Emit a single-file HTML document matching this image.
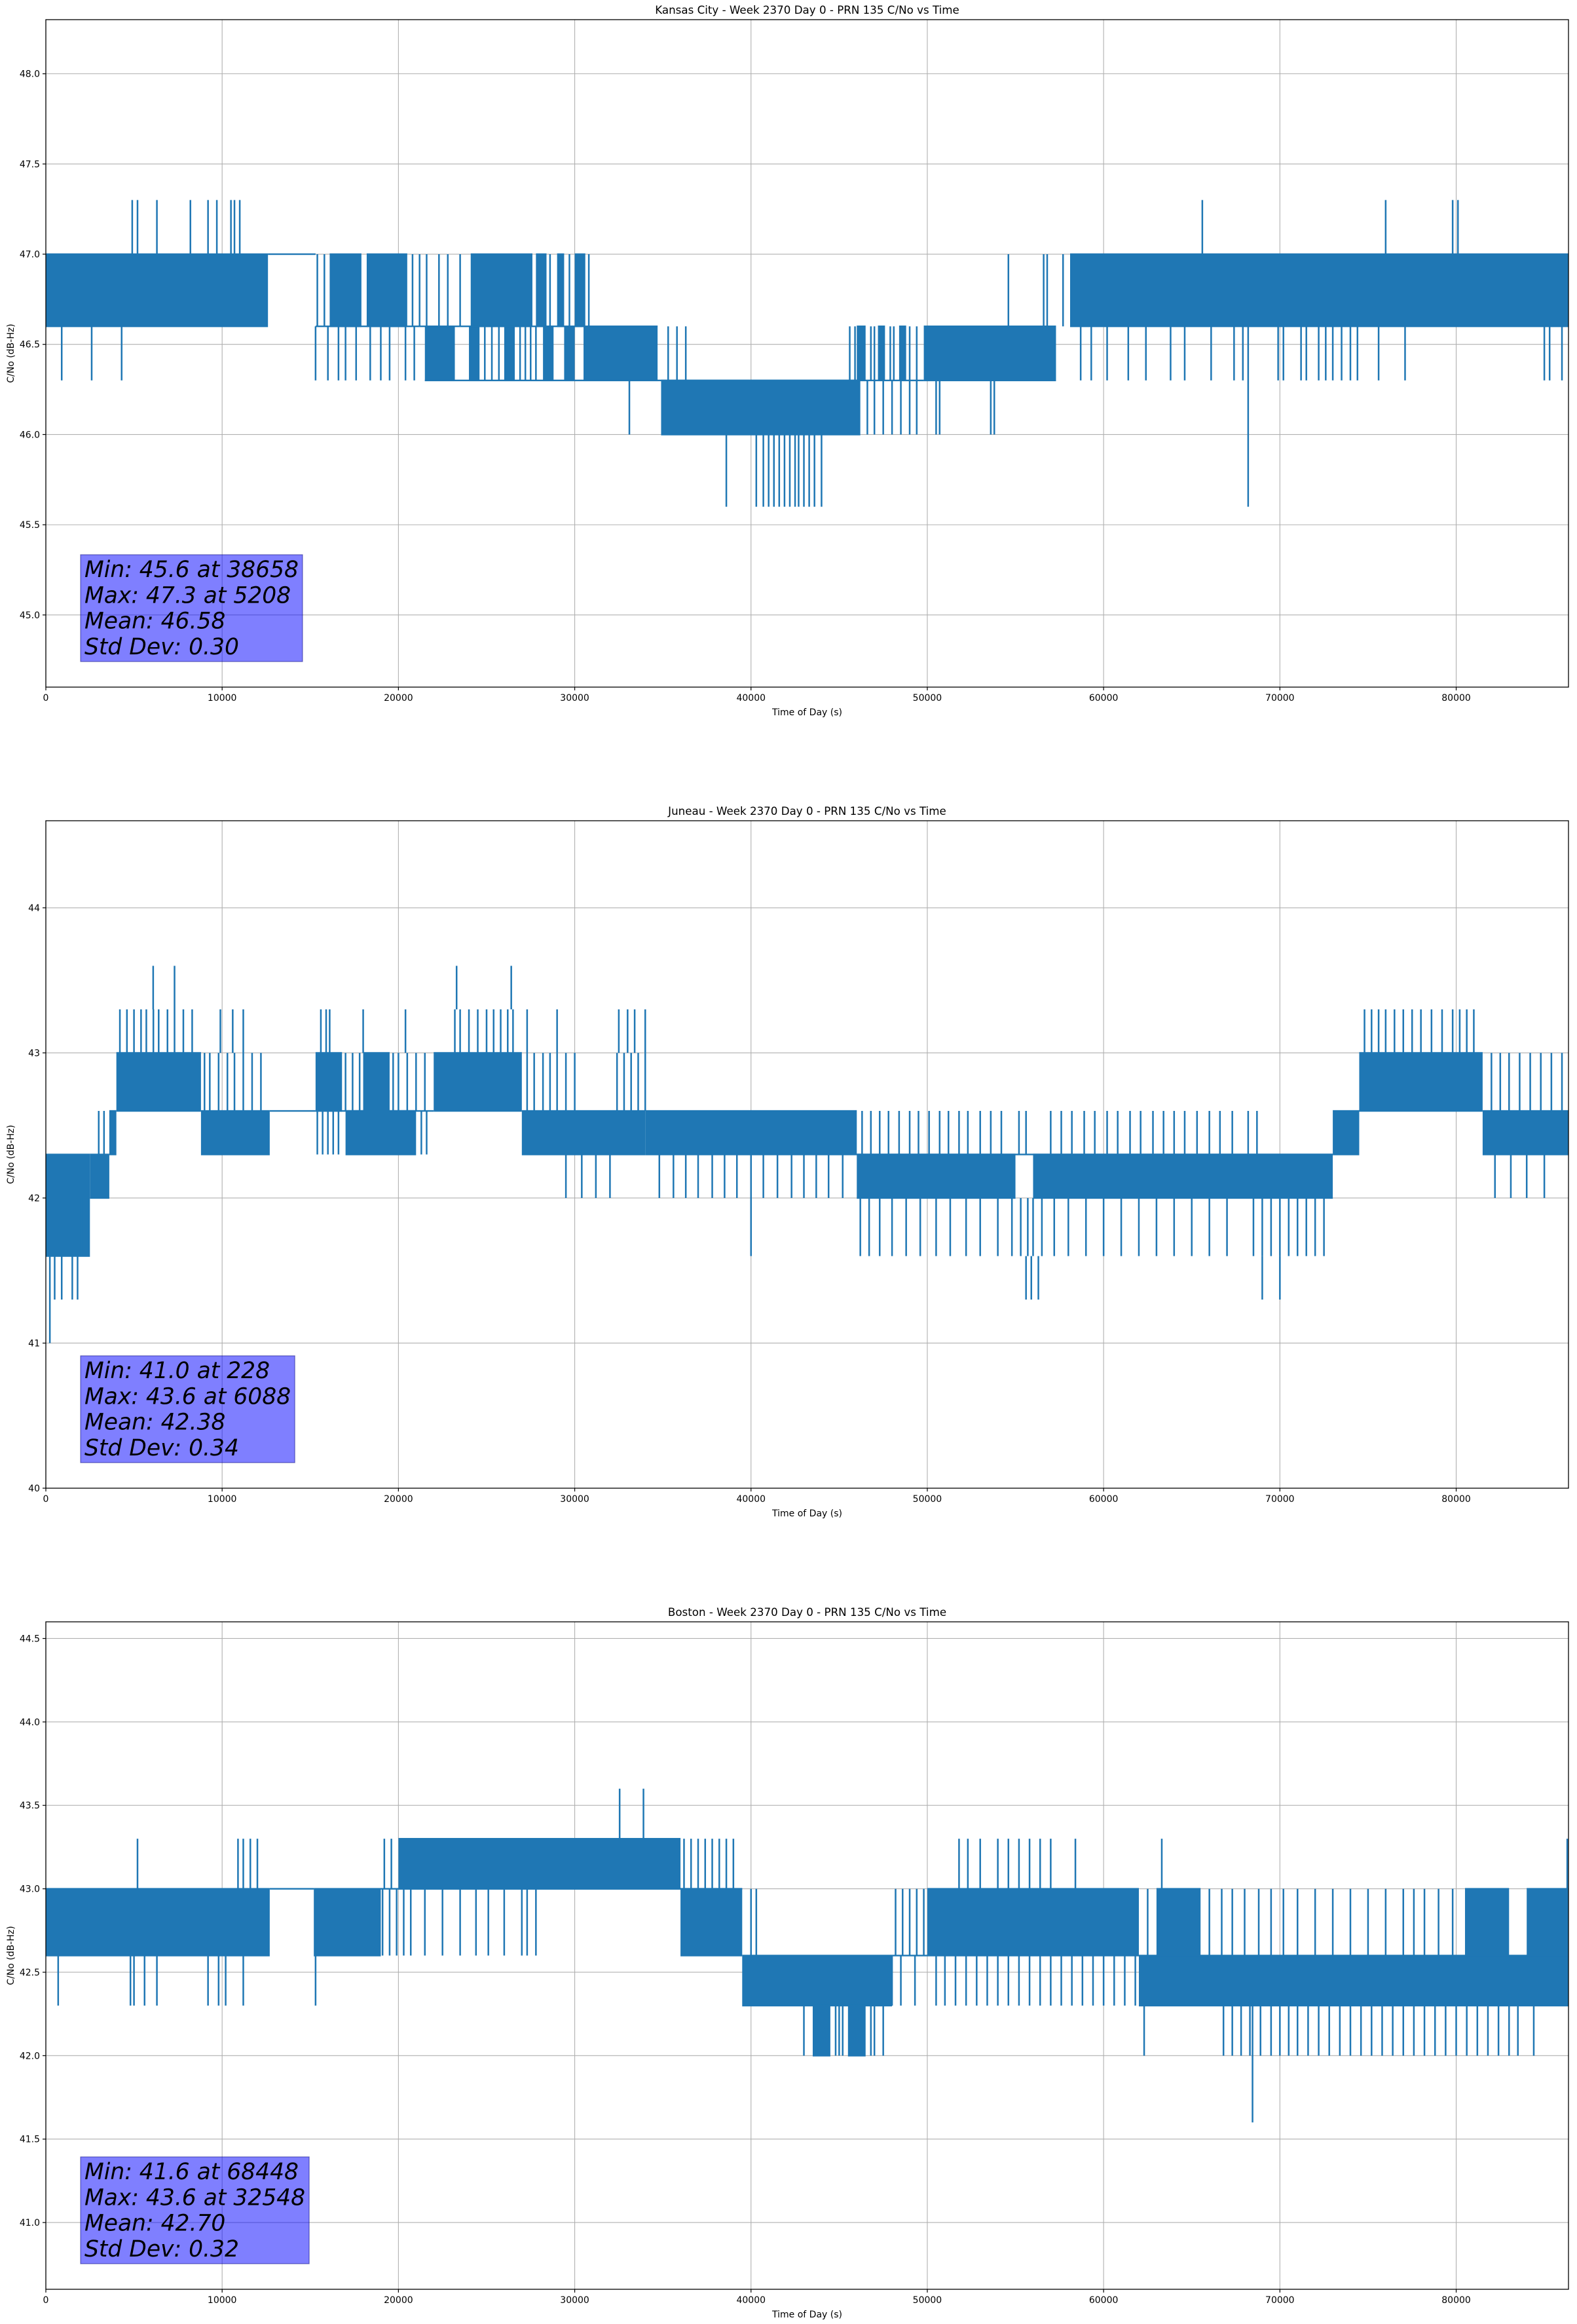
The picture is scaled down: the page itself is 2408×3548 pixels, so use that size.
<!DOCTYPE html>
<html><head><meta charset="utf-8">
<style>
html,body{margin:0;padding:0;background:#fff;}
svg{display:block;}
text{font-family:"DejaVu Sans","Liberation Sans",sans-serif;fill:#000;}
</style></head>
<body>
<svg id="fig" width="2408" height="3548" viewBox="0 0 2408 3548" xmlns="http://www.w3.org/2000/svg">
<rect x="0" y="0" width="2408" height="3548" fill="#fff"/>
</svg>
<script>
// ---------- data ----------
const xTicks = [0,10000,20000,30000,40000,50000,60000,70000,80000];
const xTickLabels = ["0","10000","20000","30000","40000","50000","60000","70000","80000"];

// Kansas City
const kcYTicks = [45.0,45.5,46.0,46.5,47.0,47.5,48.0];
const kcYTickLabels = ["45.0","45.5","46.0","46.5","47.0","47.5","48.0"];
const kcBands = [[0,12600,46.6,47.0],[12600,15300,47.0,47.0],[16100,17900,46.6,47.0],[18200,20500,46.6,47.0],[24100,27600,46.6,47.0],[27800,28400,46.6,47.0],[29000,29400,46.6,47.0],[30000,30600,46.6,47.0],[21500,23200,46.3,46.6],[24000,24600,46.3,46.6],[26000,26600,46.3,46.6],[28200,28800,46.3,46.6],[29400,30000,46.3,46.6],[30500,34700,46.3,46.6],[34900,46200,46.0,46.3],[46000,46500,46.3,46.6],[47200,47600,46.3,46.6],[48400,48800,46.3,46.6],[49800,57300,46.3,46.6],[58100,86370,46.6,47.0],[15300,34700,46.6,46.6],[21500,49800,46.3,46.3]];
const kcStrokeLo = [46.6,46.3,46.3,46.6,46.0,45.6,47.0,45.6];
const kcStrokeHi = [47.0,46.6,46.6,47.0,46.3,46.0,47.3,46.6];
const kcStrokeTimes = [
 [15400,15800,20800,21200,21600,22300,22800,23500,28600,29700,30800],
 [900,2600,4300,15300,16000,16600,17000,17600,18400,19000,19500,20400,20900,24900,25300,25700,26900,27200,27500,27800,35300,35800,36300,58700,59300,60200,61400,62400,63800,64600,66100,67400,67900,69900,70200,71200,71500,72200,72600,73000,73500,74000,74400,75600,77100,85000,85300,86000],
 [45600,45900,46800,47000,47900,48100,49000,49400],
 [54600,56600,56800,57700],
 [33100,46600,47000,47500,48000,48500,49000,49400,50500,50700,53600,53800],
 [38600,40300,40700,41000,41300,41600,41900,42200,42500,42700,43000,43300,43600,44000],
 [4900,5200,6300,8200,9200,9700,10500,10700,11000,65600,76000,79800,80100],
 [68200]
];
const kcStats = ["Min: 45.6 at 38658","Max: 47.3 at 5208","Mean: 46.58","Std Dev: 0.30"];

// Juneau
const jnYTicks = [40,41,42,43,44];
const jnYTickLabels = ["40","41","42","43","44"];
const jnBands = [[0,2500,41.6,42.3],[2500,3600,42.0,42.3],[3600,4000,42.3,42.6],[4000,8800,42.6,43.0],[8800,12700,42.3,42.6],[12700,15300,42.6,42.6],[15300,16800,42.6,43.0],[18000,19500,42.6,43.0],[17000,21000,42.3,42.6],[22000,27000,42.6,43.0],[27000,34000,42.3,42.6],[34000,46000,42.3,42.6],[46000,55000,42.0,42.3],[56000,73000,42.0,42.3],[73000,74500,42.3,42.6],[74500,81500,42.6,43.0],[81500,86370,42.3,42.6],[15300,22000,42.6,42.6],[46000,73000,42.3,42.3]];
const jnStrokeLo = [42.3,42.6,43.0,43.3,42.0,41.6,41.3,41.0];
const jnStrokeHi = [42.6,43.0,43.3,43.6,42.3,42.0,41.6,41.6];
const jnStrokeTimes = [
 [3000,3300,15400,15700,16000,16300,16600,21300,21600,46300,46800,47300,47800,48400,49000,49500,50100,50700,51200,51800,52300,53000,53600,54200,55200,55600,57000,57600,58200,58900,59500,60200,60800,61500,62100,62800,63400,64000,64600,65300,66000,66600,67300,68200,68700],
 [9000,9300,9800,10300,10700,11200,11700,12200,17000,17400,17800,19700,20000,20500,21000,21500,27300,27700,28200,28600,29000,29500,30000,32400,32800,33200,33600,34000,82000,82500,83000,83600,84200,84800,85400,86000],
 [4200,4600,5000,5400,5700,6100,6400,6900,7300,7800,8300,9900,10600,11200,15600,15900,16100,18000,20400,23200,23500,24000,24500,25000,25400,25800,26200,26500,27300,29000,32500,33000,33400,34000,74800,75200,75600,76000,76500,77000,77500,78000,78600,79200,79800,80200,80600,81000],
 [6088,7300,23300,26400],
 [29500,30400,31200,32000,34800,35600,36300,37000,37800,38500,39200,40000,40700,41500,42300,43000,43700,44400,45200,82200,83100,84000,85000],
 [2000,40000,46200,46700,47300,48000,48800,49600,50500,51300,52200,53000,54000,54800,55300,55700,56000,56500,57200,58000,59000,60000,61000,62000,63000,64000,65000,66000,67000,68500,69000,69500,70000,70500,71000,71500,72000,72500],
 [500,900,1500,1800,55600,55900,56300,69000,70000],
 [228]
];
const jnStats = ["Min: 41.0 at 228","Max: 43.6 at 6088","Mean: 42.38","Std Dev: 0.34"];

// Boston
const bsYTicks = [41.0,41.5,42.0,42.5,43.0,43.5,44.0,44.5];
const bsYTickLabels = ["41.0","41.5","42.0","42.5","43.0","43.5","44.0","44.5"];
const bsBands = [[0,12700,42.6,43.0],[12700,15200,43.0,43.0],[15200,19000,42.6,43.0],[20000,36000,43.0,43.3],[36000,39500,42.6,43.0],[39500,48000,42.3,42.6],[43500,44500,42.0,42.3],[45500,46500,42.0,42.3],[50000,62000,42.6,43.0],[62000,86370,42.3,42.6],[63000,65500,42.6,43.0],[80500,83000,42.6,43.0],[84000,86370,42.6,43.0],[19000,39500,43.0,43.0],[48000,50000,42.6,42.6]];
const bsStrokeLo = [43.0,43.3,42.6,42.3,42.0,41.6];
const bsStrokeHi = [43.3,43.6,43.0,42.6,42.3,42.3];
const bsStrokeTimes = [
 [5200,10900,11200,11600,12000,19200,19600,36200,36600,37000,37400,37800,38200,38600,39000,51800,52300,53000,54000,54600,55200,55800,56400,57000,58400,63300,86300],
 [32548,33900],
 [19100,19500,19900,20300,20700,21500,22500,23500,24400,25100,26000,27000,27300,27800,40000,40300,48200,48600,49000,49400,49800,62500,66000,66700,67300,68000,68800,69500,70200,71000,72000,73000,74000,75000,76000,77000,77600,78200,79000,79800],
 [700,4800,5000,5600,6300,9200,9800,10200,11200,15300,48000,48500,49300,50500,51000,51600,52200,52800,53400,54000,54600,55200,55800,56400,57000,57600,58200,58800,59400,60000,60600,61200,61800],
 [43000,44800,45000,45200,46800,47000,47500,62300,66800,67300,67800,68300,68900,69500,70000,70500,71000,71600,72200,72800,73400,74000,74600,75200,75800,76400,77000,77600,78200,78800,79400,80000,80600,81200,81800,82400,83000,83500,84400],
 [68448]
];
const bsStats = ["Min: 41.6 at 68448","Max: 43.6 at 32548","Mean: 42.70","Std Dev: 0.32"];

// ---------- drawing ----------
const NS = "http://www.w3.org/2000/svg";
const svg = document.getElementById("fig");
const AX_L = 70, AX_R = 2395, X_MAX = 86370;
const BLUE = "#1f77b4";
function mk(tag, attrs, parent){
  const e = document.createElementNS(NS, tag);
  for (const k in attrs) e.setAttribute(k, attrs[k]);
  (parent||svg).appendChild(e);
  return e;
}
function drawPlot(p){
  const g = mk("g", {});
  
  
  const top = p.top, bot = p.top + 1019;
  const sx = t => AX_L + (t / X_MAX) * (AX_R - AX_L);
  const sy = v => bot - (v - p.yMin) / (p.yMax - p.yMin) * (bot - top);
  xTicks.forEach((t,i)=>{
    const l = mk("line",{x1:sx(t),x2:sx(t),y1:top,y2:bot,stroke:"#b0b0b0","stroke-width":1.1},g);
    
    
  });
  p.yTicks.forEach(v=>{
    const l = mk("line",{x1:AX_L,x2:AX_R,y1:sy(v),y2:sy(v),stroke:"#b0b0b0","stroke-width":1.1},g);
    
    
  });
  const dg = mk("g",{},g);
  
  
  p.bands.forEach(b=>{
    const y1 = sy(b[3]), y2 = sy(b[2]);
    const r = mk("rect",{x:sx(b[0]),y:y1-1.2,width:Math.max(1,sx(b[1])-sx(b[0])),height:(y2-y1)+2.4,fill:BLUE},dg);
    
    
  });
  p.strokeTimes.forEach((arr,gi)=>{
    arr.forEach(t=>{
      const l = mk("line",{x1:sx(t),x2:sx(t),y1:sy(p.strokeHi[gi]),y2:sy(p.strokeLo[gi]),stroke:BLUE,"stroke-width":2.5},dg);
      
      
    });
  });
  const sp = mk("rect",{x:AX_L,y:top,width:AX_R-AX_L,height:bot-top,fill:"none",stroke:"#000","stroke-width":1.3},g);
  
  
  xTicks.forEach((t,i)=>{
    mk("line",{x1:sx(t),x2:sx(t),y1:bot,y2:bot+5,stroke:"#000","stroke-width":1.2},g);
    const tx = mk("text",{x:sx(t),y:bot+21,"font-size":14,"text-anchor":"middle"},g);
    tx.textContent = xTickLabels[i];
    
    
  });
  p.yTicks.forEach((v,i)=>{
    mk("line",{x1:AX_L-5,x2:AX_L,y1:sy(v),y2:sy(v),stroke:"#000","stroke-width":1.2},g);
    const tx = mk("text",{x:AX_L-9,y:sy(v)+5,"font-size":14,"text-anchor":"end"},g);
    tx.textContent = p.yTickLabels[i];
    
    
  });
  const tt = mk("text",{x:(AX_L+AX_R)/2,y:top-9,"font-size":16.7,"text-anchor":"middle"},g);
  tt.textContent = p.title;
  
  
  const xl = mk("text",{x:(AX_L+AX_R)/2,y:bot+43,"font-size":14,"text-anchor":"middle"},g);
  xl.textContent = "Time of Day (s)";
  
  
  const cy = (top+bot)/2;
  const yl = mk("text",{x:0,y:0,"font-size":14,"text-anchor":"middle",transform:"translate(21,"+cy+") rotate(-90)"},g);
  yl.textContent = "C/No (dB-Hz)";
  
  
  const bg = mk("g",{},g);
  
  
  const boxBot = bot - 39, lh = 39.3, fs = 34.5;
  const rect = mk("rect",{x:123,y:0,width:10,height:10,fill:"rgba(0,0,255,0.5)",stroke:"rgba(0,0,120,0.5)","stroke-width":1.2},bg);
  let maxW = 0;
  p.stats.forEach((s,i)=>{
    const tx = mk("text",{x:129,y:boxBot-11-(3-i)*lh,"font-size":fs,"font-style":"italic"},bg);
    tx.textContent = s;
    
    
    maxW = Math.max(maxW, tx.getComputedTextLength());
  });
  const firstBase = boxBot-11-3*lh;
  rect.setAttribute("y", firstBase - fs*0.76 - 8);
  rect.setAttribute("height", boxBot - (firstBase - fs*0.76 - 8));
  rect.setAttribute("width", maxW + 12);
}
drawPlot({key:"kansas-city",top:30,yMin:44.6,yMax:48.3,yTicks:kcYTicks,yTickLabels:kcYTickLabels,bands:kcBands,strokeLo:kcStrokeLo,strokeHi:kcStrokeHi,strokeTimes:kcStrokeTimes,stats:kcStats,title:"Kansas City - Week 2370 Day 0 - PRN 135 C/No vs Time"});
drawPlot({key:"juneau",top:1253,yMin:40.0,yMax:44.6,yTicks:jnYTicks,yTickLabels:jnYTickLabels,bands:jnBands,strokeLo:jnStrokeLo,strokeHi:jnStrokeHi,strokeTimes:jnStrokeTimes,stats:jnStats,title:"Juneau - Week 2370 Day 0 - PRN 135 C/No vs Time"});
drawPlot({key:"boston",top:2476,yMin:40.6,yMax:44.6,yTicks:bsYTicks,yTickLabels:bsYTickLabels,bands:bsBands,strokeLo:bsStrokeLo,strokeHi:bsStrokeHi,strokeTimes:bsStrokeTimes,stats:bsStats,title:"Boston - Week 2370 Day 0 - PRN 135 C/No vs Time"});
</script>
</body></html>
